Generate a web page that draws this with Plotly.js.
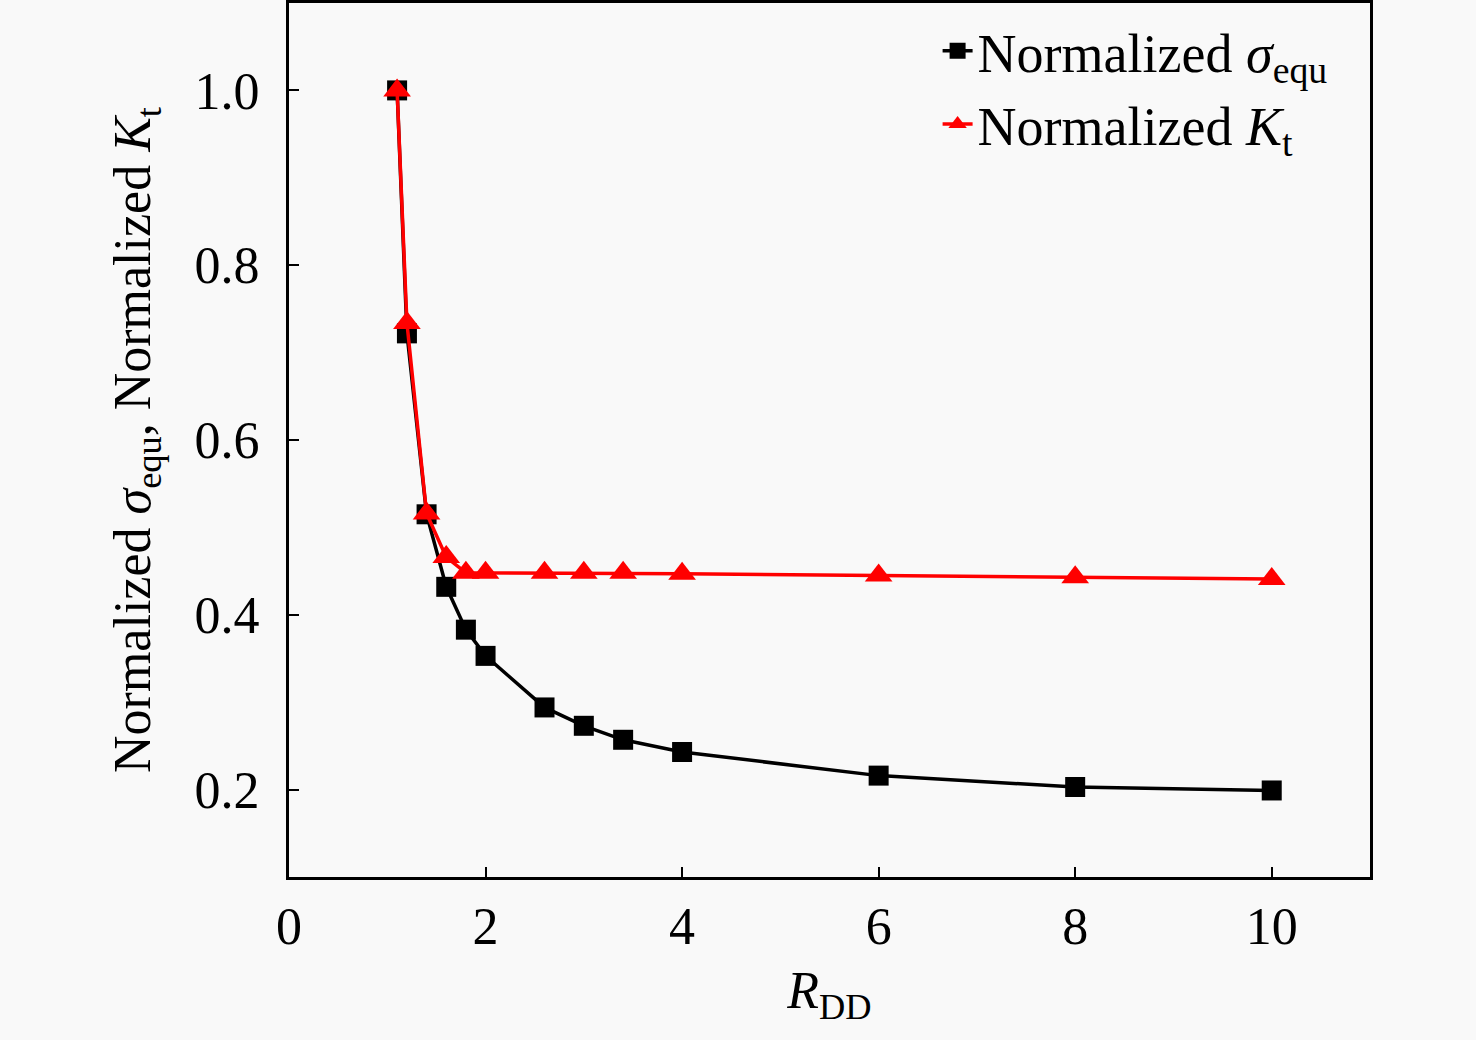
<!DOCTYPE html>
<html>
<head>
<meta charset="utf-8">
<script src="https://cdn.plot.ly/plotly-3.0.1.min.js"></script>
<style>html,body{margin:0;padding:0;background:#f9f9f9;}#chart{width:1476px;height:1040px;}</style>
</head>
<body>
<div id="chart"></div>
<script>
const rDD = [1.1, 1.2, 1.4, 1.6, 1.8, 2.0, 2.6, 3.0, 3.4, 4.0, 6, 8, 10];
const sigmaEqu = [1.0, 0.722, 0.515, 0.432, 0.383, 0.353, 0.294, 0.273, 0.257, 0.243, 0.216, 0.203, 0.199];
const kt = [1.0, 0.734, 0.516, 0.466, 0.448, 0.448, 0.448, 0.448, 0.448, 0.447, 0.445, 0.443, 0.441];
const xTicks = [0, 2, 4, 6, 8, 10];
const yTicks = [0.2, 0.4, 0.6, 0.8, 1.0];
const yTickLabels = ['0.2', '0.4', '0.6', '0.8', '1.0'];
const seriesNames = ['Normalized <i>σ</i><sub>equ</sub>', 'Normalized <i>K</i><sub>t</sub>'];

const font = 'Liberation Serif, Times New Roman, serif';

const traces = [
  {
    x: rDD, y: sigmaEqu, name: seriesNames[0], type: 'scatter', mode: 'lines+markers',
    line: {color: '#000000', width: 3.5},
    marker: {symbol: 'square', size: 20, color: '#000000'}
  },
  {
    x: rDD, y: kt, name: seriesNames[1], type: 'scatter', mode: 'lines+markers',
    line: {color: '#ff0000', width: 3.5},
    marker: {symbol: 'triangle-up', size: 24, color: '#ff0000'}
  }
];

const layout = {
  width: 1476, height: 1040,
  paper_bgcolor: '#f9f9f9', plot_bgcolor: '#f9f9f9',
  margin: {l: 289, r: 106, t: 3, b: 163},
  font: {family: font, size: 52, color: '#000'},
  showlegend: true,
  legend: {
    x: 0.6, y: 0.993, xanchor: 'left', yanchor: 'top',
    bgcolor: 'rgba(0,0,0,0)', font: {family: font, size: 54, color: '#000'},
    tracegroupgap: 0
  },
  xaxis: {
    range: [0, 11], tickmode: 'array', tickvals: xTicks,
    ticks: 'inside', ticklen: 10, tickwidth: 2, tickcolor: '#000',
    showline: true, linewidth: 3, linecolor: '#000', mirror: true,
    showgrid: false, zeroline: false,
    tickfont: {family: font, size: 52, color: '#000'},
    ticklabelstandoff: 2,
    title: {text: '<i>R</i><sub>DD</sub>', font: {family: font, size: 52, color: '#000'}, standoff: 18}
  },
  yaxis: {
    range: [0.1, 1.1], tickmode: 'array', tickvals: yTicks, ticktext: yTickLabels,
    ticks: 'inside', ticklen: 10, tickwidth: 2, tickcolor: '#000',
    showline: true, linewidth: 3, linecolor: '#000', mirror: true,
    showgrid: false, zeroline: false,
    tickfont: {family: font, size: 52, color: '#000'},
    ticklabelstandoff: 16,
    title: {text: 'Normalized <i>σ</i><sub>equ</sub>, Normalized <i>K</i><sub>t</sub>', font: {family: font, size: 52, color: '#000'}, standoff: 28}
  }
};

Plotly.newPlot('chart', traces, layout, {displayModeBar: false, staticPlot: true});
</script>
</body>
</html>
